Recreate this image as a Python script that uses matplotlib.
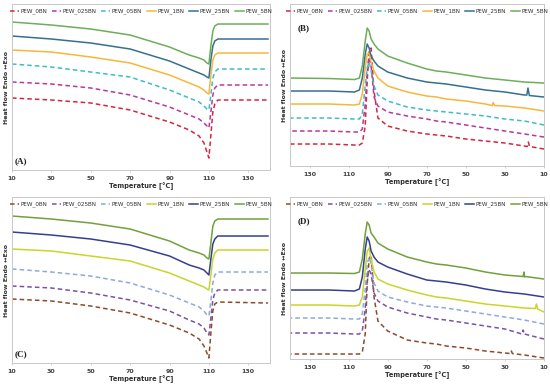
import numpy as np
import matplotlib
matplotlib.use('Agg')
import matplotlib.pyplot as plt

labels = ['PEW_0BN', 'PEW_025BN', 'PEW_05BN', 'PEW_1BN', 'PEW_25BN', 'PEW_5BN']
styles = ['--', '--', '--', '-', '-', '-']
colors_ab = ['#d2283f', '#b8389f', '#3fbcc8', '#f5b83c', '#36708f', '#6cae5a']
colors_cd = ['#8e4a2c', '#7a52a8', '#8eaadb', '#c9d52a', '#34408f', '#72a03c']

# heating scans (A, C)
heat_T = [10, 30, 50, 70, 90, 100, 105, 107.5, 109, 110, 111, 112, 113, 114.5, 140]
a_vals = [
    [72, 70, 67, 60, 48, 40, 34, 27, 18, 12, 35, 58, 66, 70, 70],
    [88, 86, 82, 75, 63, 55, 51, 47, 44, 42, 58, 75, 82, 85, 85],
    [106, 103, 98, 93, 80, 72, 68, 64, 61, 60, 75, 92, 98, 101, 101],
    [120, 118, 113, 107, 95, 87, 83, 80, 77, 76, 95, 110, 115, 117, 117],
    [134, 131, 127, 121, 109, 101, 97, 95, 93, 92, 110, 124, 129, 131, 131],
    [148, 145, 141, 135, 123, 115, 112, 110, 107, 106, 124, 139, 144, 146, 146],
]
c_vals = [
    [64, 62, 57, 50, 38, 30, 24, 17, 10, 5, 30, 52, 59, 61, 60],
    [77, 75, 70, 63, 52, 43, 39, 35, 30, 28, 45, 63, 70, 73, 73],
    [94, 91, 87, 80, 68, 60, 56, 52, 48, 47, 62, 80, 88, 91, 91],
    [114, 112, 107, 102, 90, 82, 78, 76, 74, 73, 88, 104, 110, 113, 113],
    [131, 128, 124, 118, 107, 98, 95, 93, 90, 88, 104, 119, 124, 127, 127],
    [147, 144, 140, 134, 122, 113, 110, 108, 105, 104, 120, 137, 142, 144, 144],
]

# cooling scans (B, D)
cool_T = [140, 120, 107, 104.5, 103, 101.5, 100.5, 99.5, 98.5, 97, 95, 90, 80, 70, 65, 60, 50, 40, 30, 20, 10]
b_vals = [
    [22, 22, 21, 21, 23, 40, 85, 115, 118, 75, 48, 40, 35, 32, 31, 30, 27, 25, 23, 20, 17],
    [35, 35, 34, 34, 37, 62, 95, 109, 100, 69, 60, 54, 50, 47, 45, 44, 41, 38, 35, 32, 29],
    [48, 48, 47, 47, 52, 80, 98, 104, 95, 80, 71, 65, 59, 56, 55, 54, 52, 50, 47, 45, 41],
    [62, 62, 61, 62, 72, 98, 112, 113, 104, 95, 88, 80, 74, 70, 69, 67, 65, 62, 60, 58, 55],
    [75, 75, 74, 76, 88, 112, 122, 118, 110, 105, 100, 94, 88, 84, 83, 82, 79, 76, 74, 71, 69],
    [88, 87.5, 86.5, 88, 100, 125, 138, 135, 127, 122, 117, 110, 103, 97, 95, 94, 91, 88, 86, 84, 83],
]
d_vals = [
    [5, 5, 5, 5, 7, 25, 75, 100, 104, 62, 38, 28, 19, 16, 15, 13, 11, 8, 6, 4, 1],
    [26, 26, 25, 25, 28, 50, 80, 89, 85, 66, 58, 52, 46, 42, 40, 39, 36, 33, 30, 25, 20],
    [41, 41, 40, 40, 45, 70, 95, 102, 95, 76, 68, 62, 57, 53, 52, 51, 48, 45, 42, 39, 35],
    [54, 54, 53, 54, 62, 90, 108, 111, 100, 87, 80, 75, 69, 64, 62, 61, 58, 55, 53, 51, 47],
    [69, 69, 68, 70, 82, 110, 122, 118, 108, 102, 97, 92, 85, 79, 78, 77, 74, 70, 67, 65, 62],
    [86, 86, 85.5, 87, 100, 125, 137, 134, 126, 122, 116, 110, 102, 97, 95, 94, 91, 87, 84, 82, 80],
]

# small crystallisation spikes (series index, T points, values)
b_spikes = [(0, [18.6, 18, 17.4], [19.5, 24, 19.5]),
            (3, [36.5, 36, 35.3], [60.5, 63.5, 60.5]),
            (4, [18.8, 18.2, 17.5], [71, 78, 70.5])]
d_spikes = [(0, [27.2, 26.7, 26.2], [5.5, 8, 5.5]),
            (1, [21.2, 20.7, 20], [25, 29, 24.5]),
            (3, [14.4, 13.9, 13.2], [50.5, 55, 50]),
            (5, [20.7, 20.2, 19.5], [82.5, 87, 82.5])]


def series(T, vals, spikes, i):
    x = list(T)
    y = list(vals[i])
    for k, sx, sy in spikes:
        if k == i:
            x += sx
            y += sy
    x = np.array(x)
    y = np.array(y)
    order = np.argsort(x)
    return x[order], y[order]


def panel(rect, T, vals, spikes, colors, xlim, ylim, letter, letter_pos):
    ax = fig.add_axes(rect)
    for i in range(6):
        x, y = series(T, vals, spikes, i)
        if styles[i] == '--':
            ax.plot(x, y, color=colors[i], lw=1.1, ls=(0, (3, 2)), label=labels[i])
        else:
            ax.plot(x, y, color=colors[i], lw=1.1, label=labels[i])
    ax.set_xlim(*xlim)
    ax.set_ylim(*ylim)
    ax.set_xticks([130, 110, 90, 70, 50, 30, 10])
    ax.set_yticks([])
    ax.tick_params(axis='x', labelsize=4.5, length=1.5, width=0.5, color='#bfbfbf', pad=2.5)
    for lab in ax.get_xticklabels():
        lab.set_fontweight('bold')
        lab.set_color('#404040')
    for s in ax.spines.values():
        s.set_color('#c8c8c8')
        s.set_linewidth(0.7)
    ax.set_xlabel('Temperature [°C]', fontsize=4.8, fontweight='bold', color='#303030', labelpad=1)
    ax.set_ylabel('Heat flow Endo \u2194Exo', fontsize=4.5, fontweight='bold', color='#303030', labelpad=2)
    leg = ax.legend(loc='upper center', ncol=6, frameon=False, handlelength=1.5,
                    handletextpad=0.3, columnspacing=0.9, borderaxespad=0.4,
                    bbox_to_anchor=(0.5, 1.0), prop={'size': 4.1})
    for t in leg.get_texts():
        t.set_color('#303030')
    ax.text(letter_pos[0], letter_pos[1], letter, transform=ax.transAxes,
            fontsize=6.5, fontweight='bold', family='Liberation Serif', color='#202020')
    return ax


fig = plt.figure(figsize=(5.5, 3.86), dpi=100)
fig.patch.set_facecolor('white')

panel([0.0218, 0.5596, 0.469, 0.430], heat_T, a_vals, [], colors_ab, (10, 141), (0, 166), '(A)', (0.01, 0.04))
panel([0.5273, 0.5699, 0.4618, 0.4197], cool_T, b_vals, b_spikes, colors_ab, (140, 10), (0, 162), '(B)', (0.03, 0.84))
panel([0.0218, 0.0596, 0.469, 0.430], heat_T, c_vals, [], colors_cd, (10, 141), (0, 166), '(C)', (0.01, 0.04))
panel([0.5273, 0.0699, 0.4618, 0.4197], cool_T, d_vals, d_spikes, colors_cd, (140, 10), (0, 162), '(D)', (0.03, 0.84))

fig.savefig('out.png', dpi=100)
